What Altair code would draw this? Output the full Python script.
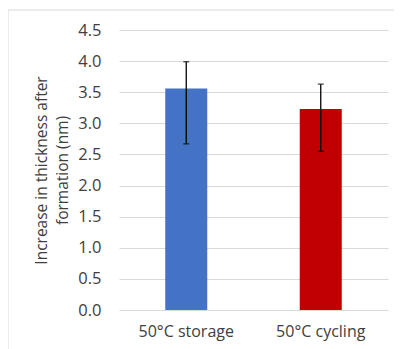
import altair as alt
import pandas as pd

categories = ["50°C storage", "50°C cycling"]
values = [3.56, 3.23]
err_low = [2.67, 2.55]
err_high = [3.99, 3.63]
colors = ["#4472C4", "#C00000"]
yticks = [0, 0.5, 1, 1.5, 2, 2.5, 3, 3.5, 4, 4.5]

df = pd.DataFrame({"cat": categories, "val": values, "lo": err_low, "hi": err_high, "col": colors})

FONT = "Open Sans"
YTITLE = ["Increase in thickness after", "formation (nm)"]

xaxis = alt.Axis(labelAngle=0, labelFontSize=16, labelColor="#404040", labelFont=FONT,
                 ticks=False, domain=False, labelPadding=13, grid=False)
yaxis = alt.Axis(values=yticks, format=".1f", labelOverlap=False,
                 labelFontSize=16.5, labelColor="#404040", labelFont=FONT, labelPadding=18,
                 ticks=False, domain=False, gridColor="#d9d9d9",
                 titleFont=FONT, titleFontSize=15.5, titleFontWeight="normal",
                 titleColor="#404040", titlePadding=7, titleLineHeight=21)
yscale = alt.Scale(domain=[0, 4.5])
xscale = alt.Scale(paddingInner=0, paddingOuter=0)

def X():
    return alt.X("cat:N", sort=categories, title=None, scale=xscale, axis=xaxis)

def Y(field):
    return alt.Y(field, scale=yscale, title=YTITLE, axis=yaxis)

border = alt.Chart(pd.DataFrame({"a": [0]})).mark_rect(
    fill=None, stroke="#d9d9d9", strokeWidth=1
).encode(x=alt.value(-111), x2=alt.value(300), y=alt.value(-20), y2=alt.value(340))

bars = alt.Chart(df).mark_bar(size=42).encode(
    x=X(), y=Y("val:Q"), color=alt.Color("col:N", scale=None)
)
rules = alt.Chart(df).mark_rule(color="black", strokeWidth=1.3).encode(
    x=X(), y=Y("lo:Q"), y2="hi:Q"
)
caps_hi = alt.Chart(df).mark_tick(color="black", size=6, thickness=1.3, orient="horizontal").encode(
    x=X(), y=Y("hi:Q")
)
caps_lo = alt.Chart(df).mark_tick(color="black", size=6, thickness=1.3, orient="horizontal").encode(
    x=X(), y=Y("lo:Q")
)

chart = alt.layer(border, bars, rules, caps_hi, caps_lo).properties(
    width=269, height=280,
    autosize=alt.AutoSizeParams(type="none"),
    padding={"left": 111, "top": 22, "right": 6, "bottom": 39},
).configure(background="white").configure_view(stroke=None)

chart.save("out.html", embed_options={"renderer": "svg", "actions": False})
